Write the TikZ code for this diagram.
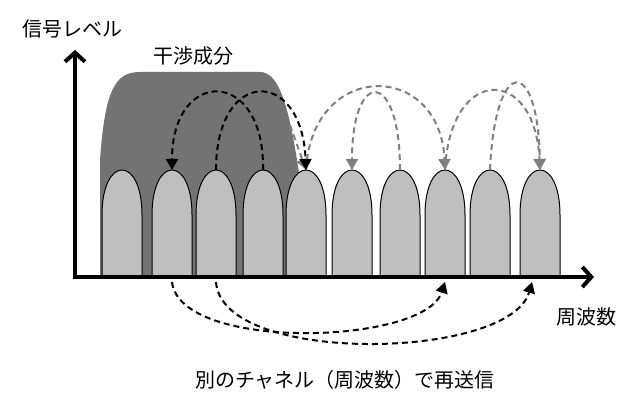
\documentclass[tikz,border=0pt]{standalone}
\usepackage{fontspec}
\setmainfont{Noto Sans CJK JP}
\usetikzlibrary{arrows.meta}
\definecolor{lump}{gray}{0.75}
\definecolor{interf}{gray}{0.45}
\definecolor{arcgray}{gray}{0.5}
\tikzset{
  axis/.style={line width=4pt, -{Straight Barb[length=9pt,width=20pt]}},
  hop/.style={dash pattern=on 6pt off 4pt, line width=2pt, -{Triangle[length=11pt,width=12pt]}},
  txt/.style={font=\fontsize{20}{23}\selectfont, inner sep=0pt}
}
\begin{document}
\begin{tikzpicture}[x=1pt,y=-1pt]
  \useasboundingbox (0,0) rectangle (640,403);
  % interference component
  \fill[interf] (100,277) -- (100,160) .. controls (105,90) and (115,72) .. (140,72)
    -- (260,72) .. controls (280,72) and (290,110) .. (300,180) -- (300,277) -- cycle;
  % channels
  \foreach \i/\x in {1/122,2/172,3/216,4/263,5/306,6/352,7/400,8/445,9/490,10/540} {
    \filldraw[fill=lump, draw=black, line width=1pt]
      (\x-20,277) -- (\x-20,215) .. controls (\x-20,185) and (\x-10,170) .. (\x,170)
      .. controls (\x+10,170) and (\x+20,185) .. (\x+20,215) -- (\x+20,277);
    \coordinate (c\i) at (\x,170);
    \coordinate (b\i) at (\x,282);
  }
  % axes
  \draw[axis] (75,279) -- (75,50);
  \draw[axis] (73,277) -- (594,277);
  \node[txt] (ylab) at (72,29) {信号レベル};
  \node[txt] (ilab) at (193,56) {干渉成分};
  \node[txt] (xlab) at (586,317) {周波数};
  \node[txt] (note) at (345,380) {別のチャネル（周波数）で再送信};
  % hops in band
  \draw[hop, arcgray] (c5) .. controls (312,60) and (440,60) .. (c8);
  \draw[hop, arcgray] (c7) .. controls (400,68) and (352,68) .. (c6);
  \draw[hop, arcgray] (c8) .. controls (450,65) and (535,65) .. (c10);
  \draw[hop, arcgray] (c9) .. controls (495,55) and (538,55) .. (c10);
  \draw[hop, arcgray] (290,125) -- (c5);
  \draw[hop, black] (c4) .. controls (265,67) and (172,67) .. (c2);
  \draw[hop, black] (c3) .. controls (216,67) and (302,67) .. (c5);
  % hops to other channels
  \draw[hop, black] (b2) .. controls (180,352) and (425,345) .. (445,282);
  \draw[hop, black] (b3) .. controls (222,366) and (510,360) .. (532,282);
\end{tikzpicture}
\end{document}
